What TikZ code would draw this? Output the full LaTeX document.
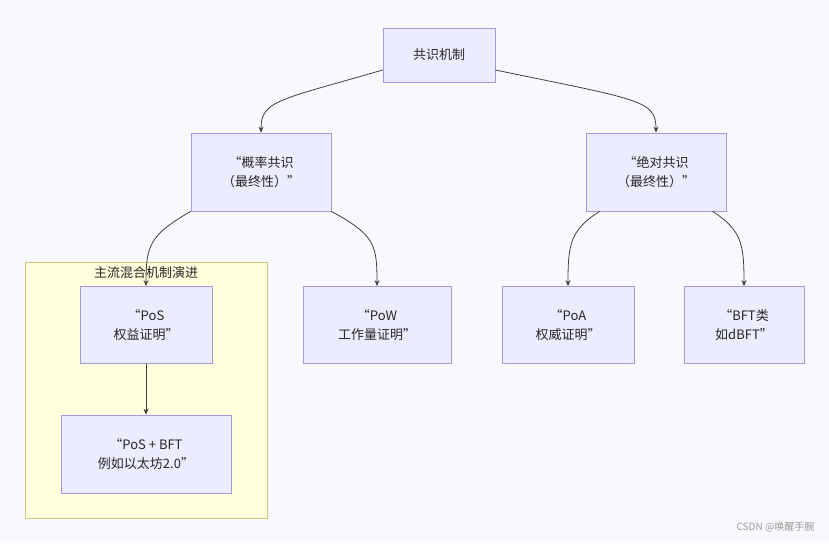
\documentclass[tikz,border=0pt]{standalone}
\usepackage{fontspec}
\usetikzlibrary{arrows.meta}
\setmainfont{Noto Sans CJK SC}
\begin{document}
\begin{tikzpicture}[x=1pt,y=-1pt,
  box/.style={draw=purpleb,fill=boxf,line width=0.8pt,align=center,font=\fontsize{13}{19}\selectfont,text=black!85,inner sep=0pt},
  arr/.style={draw=black!75,line width=0.8pt,-{Stealth[length=6pt,width=5pt]}}]
\definecolor{bg}{HTML}{F8F9FC}
\definecolor{purpleb}{HTML}{A898E0}
\definecolor{boxf}{HTML}{ECECFF}
\definecolor{clf}{HTML}{FFFFDE}
\definecolor{clb}{HTML}{C8C878}
\fill[bg] (0,0) rectangle (829,543);
\useasboundingbox (0,0) rectangle (829,543);
\draw[fill=clf,draw=clb,line width=0.8pt] (25,262) rectangle (267,518);
\node[font=\fontsize{13}{16}\selectfont,text=black!85] (cl) at (146,273) {主流混合机制演进};
\node[box,minimum width=112pt,minimum height=54pt] (root) at (439,55) {共识机制};
\node[box,minimum width=140pt,minimum height=78pt] (prob) at (261,172) {“概率共识\\（最终性）”};
\node[box,minimum width=140pt,minimum height=78pt] (abs) at (656,172) {“绝对共识\\（最终性）”};
\node[box,minimum width=132pt,minimum height=77pt] (pos) at (146,325) {“PoS\\权益证明”};
\node[box,minimum width=148pt,minimum height=77pt] (pow) at (377,325) {“PoW\\工作量证明”};
\node[box,minimum width=132pt,minimum height=77pt] (poa) at (568,325) {“PoA\\权威证明”};
\node[box,minimum width=120pt,minimum height=77pt] (bft) at (744,325) {“BFT类\\如dBFT”};
\node[box,minimum width=170pt,minimum height=78pt] (posbft) at (146,454) {“PoS + BFT\\例如以太坊2.0”};
\draw[arr] ([yshift=-15pt]root.west) .. controls (280,100) and (261,100) .. (prob.north);
\draw[arr] ([yshift=-15pt]root.east) .. controls (640,100) and (656,100) .. (abs.north);
\draw[arr] (prob.south west) .. controls (150,235) and (146,245) .. (pos.north);
\draw[arr] (prob.south east) .. controls (375,235) and (377,245) .. (pow.north);
\draw[arr] ([xshift=14pt]abs.south west) .. controls (570,230) and (568,245) .. (poa.north);
\draw[arr] ([xshift=-14pt]abs.south east) .. controls (742,230) and (744,245) .. (bft.north);
\draw[arr] (pos.south) -- (posbft.north);
\node[font=\fontsize{10}{12}\selectfont,text=black!40,anchor=east] (wm) at (818,527) {CSDN @唤醒手腕};
\end{tikzpicture}
\end{document}
